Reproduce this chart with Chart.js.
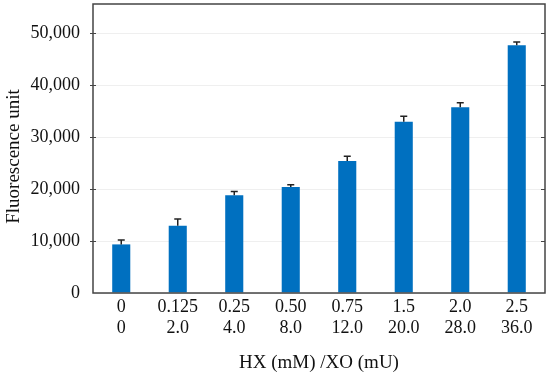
<!DOCTYPE html>
<html>
<head>
<meta charset="utf-8">
<script src="https://cdn.jsdelivr.net/npm/chart.js@4.4.0/dist/chart.umd.min.js"></script>
<style>
html,body{margin:0;padding:0;background:#fff;}
#wrap{width:550px;height:375px;position:relative;}
</style>
</head>
<body>
<div id="wrap"><canvas id="c" width="550" height="375"></canvas></div>
<script>
const hxLabels = ['0','0.125','0.25','0.50','0.75','1.5','2.0','2.5'];
const xoLabels = ['0','2.0','4.0','8.0','12.0','20.0','28.0','36.0'];
const fluorescence = [9350, 12950, 18800, 20400, 25400, 32950, 35750, 47650];
const errors = [850, 1300, 750, 450, 900, 1050, 850, 650];
const yTicks = [0, 10000, 20000, 30000, 40000, 50000];
const xTitle = 'HX (mM) /XO (mU)';
const yTitle = 'Fluorescence unit';

const FONT = '"Liberation Serif", "Times New Roman", serif';

const framePlugin = {
  id: 'frame',
  afterDatasetsDraw(chart) {
    const ctx = chart.ctx;
    const a = chart.chartArea;
    const y = chart.scales.y;
    const meta = chart.getDatasetMeta(0);
    ctx.save();
    // error bars
    ctx.strokeStyle = '#222';
    ctx.lineWidth = 1.5;
    meta.data.forEach((bar, i) => {
      const top = y.getPixelForValue(fluorescence[i] + errors[i]);
      const base = y.getPixelForValue(fluorescence[i]);
      ctx.beginPath();
      ctx.moveTo(bar.x, base);
      ctx.lineTo(bar.x, top);
      ctx.moveTo(bar.x - 3.5, top);
      ctx.lineTo(bar.x + 3.5, top);
      ctx.stroke();
    });
    // frame
    ctx.strokeStyle = '#444';
    ctx.lineWidth = 1.5;
    ctx.strokeRect(a.left, a.top, a.right - a.left, a.bottom - a.top);
    // ticks
    ctx.lineWidth = 1;
    yTicks.forEach(v => {
      const py = Math.round(y.getPixelForValue(v)) + 0.5;
      if (v === 0) return;
      ctx.beginPath();
      ctx.moveTo(a.left - 3, py);
      ctx.lineTo(a.left + 3, py);
      ctx.moveTo(a.right - 4, py);
      ctx.lineTo(a.right, py);
      ctx.stroke();
    });
    // y title
    ctx.fillStyle = '#111';
    ctx.font = '19px ' + FONT;
    ctx.textAlign = 'center';
    ctx.textBaseline = 'middle';
    ctx.translate(14, (a.top + a.bottom) / 2 + 8);
    ctx.rotate(-Math.PI / 2);
    ctx.fillText(yTitle, 0, 0);
    ctx.restore();
  }
};

new Chart(document.getElementById('c'), {
  type: 'bar',
  data: {
    labels: hxLabels.map((h, i) => [h, xoLabels[i]]),
    datasets: [{
      data: fluorescence,
      backgroundColor: '#0070C0',
      borderWidth: 0,
      barPercentage: 0.32,
      categoryPercentage: 1.0
    }]
  },
  options: {
    responsive: false,
    animation: false,
    devicePixelRatio: 1,
    layout: { padding: { top: 4, right: 5, left: 0, bottom: 0 } },
    plugins: { legend: { display: false }, tooltip: { enabled: false } },
    scales: {
      x: {
        grid: { display: false, drawTicks: false },
        border: { display: false },
        ticks: {
          color: '#111',
          padding: 4,
          font: { family: FONT, size: 18, lineHeight: 1.17 },
          maxRotation: 0, autoSkip: false
        },
        title: {
          display: true, text: xTitle, color: '#111',
          font: { family: FONT, size: 19 },
          padding: { top: 0, bottom: 1 }
        },
        afterFit(s) { s.height = 82; s.paddingLeft = 0; s.paddingRight = 0; }
      },
      y: {
        min: 0, max: 55600,
        grid: { color: '#efefef', drawTicks: false, lineWidth: 1 },
        border: { display: false },
        ticks: {
          color: '#111',
          padding: 13,
          font: { family: FONT, size: 18 },
          callback: v => v.toLocaleString('en-US')
        },
        afterBuildTicks(s) { s.ticks = yTicks.map(v => ({ value: v })); },
        afterFit(s) { s.width = 93; s.paddingTop = 0; s.paddingBottom = 0; }
      }
    }
  },
  plugins: [framePlugin]
});
</script>
</body>
</html>
